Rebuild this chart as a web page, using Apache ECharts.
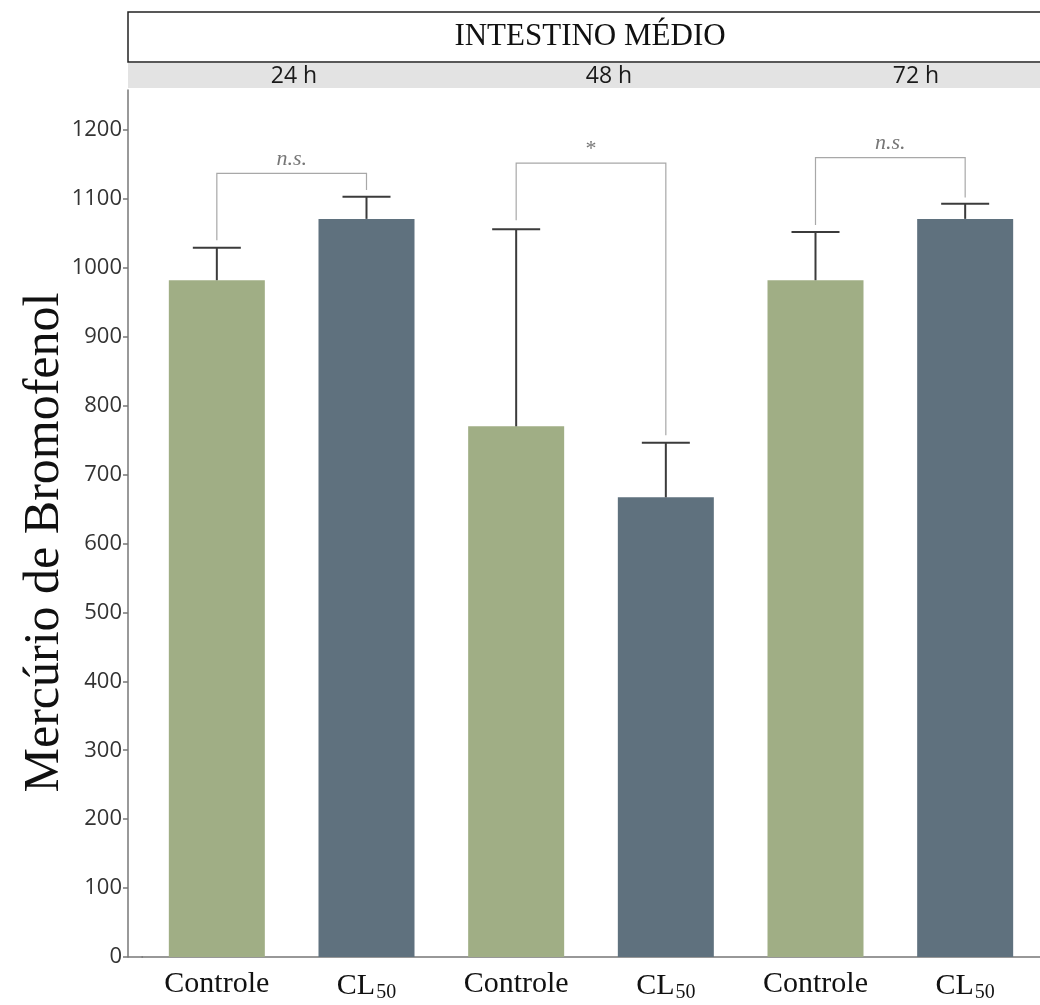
<!DOCTYPE html>
<html><head><meta charset="utf-8">
<script src="https://cdn.jsdelivr.net/npm/echarts@6/dist/echarts.min.js"></script>
<style>html,body{margin:0;padding:0;background:#fff}#c{width:1040px;height:1005px}</style>
</head><body><div id="c"></div>
<script>
// ---- data ----
const categories = ['Controle', 'CL50', 'Controle', 'CL50', 'Controle', 'CL50'];
const groupLabels = ['24 h', '48 h', '72 h'];
const means = [982, 1071, 770, 667, 982, 1071];
const errorTop = [1029, 1103, 1056, 746, 1052, 1093];
const bracketLeft = [0, 2, 4];
const bracketRight = [1, 3, 5];
const bracketLevel = [1137, 1152, 1160];
const bracketLeftEnd = [1040, 1069, 1062];
const bracketRightEnd = [1113, 757, 1102];
const bracketText = ['n.s.', '*', 'n.s.'];
const yTicks = [0, 100, 200, 300, 400, 500, 600, 700, 800, 900, 1000, 1100, 1200];
const panelTitle = 'INTESTINO MÉDIO';
const yName = 'Mercúrio de Bromofenol';

const GREEN = '#a0ae85', SLATE = '#5f717e';
const serif = '"Liberation Serif","DejaVu Serif",serif';
const sans = '"Open Sans","Noto Sans",sans-serif';

const chart = echarts.init(document.getElementById('c'), null, {renderer: 'canvas'});

const barData = means.map((v, i) => ({value: v, itemStyle: {color: i % 2 === 0 ? GREEN : SLATE}}));
const errData = means.map((v, i) => [i, v, errorTop[i]]);
const brData = bracketLeft.map((l, i) => [l, bracketRight[i], bracketLevel[i], bracketLeftEnd[i], bracketRightEnd[i]]);

const option = {
  animation: false,
  backgroundColor: '#fff',
  grid: {left: 142, right: -2, top: 90, bottom: 48, containLabel: false},
  graphic: [
    {type: 'rect', shape: {x: 128, y: 12, width: 930, height: 50}, style: {fill: '#fff', stroke: '#222', lineWidth: 1.5}, z: 10},
    {type: 'text', x: 590, y: 37, style: {text: panelTitle, font: '31px ' + serif, fill: '#111', textAlign: 'center', textVerticalAlign: 'middle'}, z: 11},
    {type: 'rect', shape: {x: 128, y: 63, width: 930, height: 25}, style: {fill: '#e3e3e3'}, z: 10},
    {type: 'text', x: 294, y: 76, style: {text: groupLabels[0], font: '23px ' + sans, fill: '#1a1a1a', textAlign: 'center', textVerticalAlign: 'middle'}, z: 11},
    {type: 'text', x: 609, y: 76, style: {text: groupLabels[1], font: '23px ' + sans, fill: '#1a1a1a', textAlign: 'center', textVerticalAlign: 'middle'}, z: 11},
    {type: 'text', x: 916, y: 76, style: {text: groupLabels[2], font: '23px ' + sans, fill: '#1a1a1a', textAlign: 'center', textVerticalAlign: 'middle'}, z: 11},
    {type: 'line', shape: {x1: 128, y1: 957, x2: 143, y2: 957}, style: {stroke: '#777', lineWidth: 1.5}, z: 10}
  ],
  xAxis: {
    type: 'category',
    data: categories,
    axisLine: {lineStyle: {color: '#777', width: 1.5}},
    axisTick: {alignWithLabel: true, length: 7, lineStyle: {color: '#777', width: 1.5}},
    axisLabel: {
      margin: 12,
      interval: 0,
      formatter: v => v === 'CL50' ? '{a|CL}{b|50}' : '{a|' + v + '}',
      rich: {
        a: {fontFamily: serif, fontSize: 30, color: '#111'},
        b: {fontFamily: serif, fontSize: 20, color: '#111', padding: [14, 0, 0, 1]}
      }
    },
    splitLine: {show: false}
  },
  yAxis: {
    type: 'value',
    min: 0,
    max: 1258,
    interval: 100,
    offset: 14,
    name: yName,
    nameLocation: 'middle',
    nameGap: 58,
    nameMoveOverlap: false,
    nameTextStyle: {fontFamily: serif, fontSize: 50, color: '#111', padding: [0, 38, 0, 0]},
    axisLine: {show: true, lineStyle: {color: '#777', width: 1.5}},
    axisTick: {show: true, length: 5, lineStyle: {color: '#777', width: 1.5}, customValues: yTicks},
    axisLabel: {fontFamily: sans, fontSize: 22, color: '#333', margin: 6, customValues: yTicks, formatter: v => String(v)},
    splitLine: {show: false}
  },
  series: [
    {type: 'bar', data: barData, barWidth: 96, z: 2},
    {
      type: 'custom', z: 3, data: errData,
      renderItem: (params, api) => {
        const x = api.value(0);
        const p0 = api.coord([x, api.value(1)]);
        const p1 = api.coord([x, api.value(2)]);
        const half = 24;
        const st = {stroke: '#3b3b3b', lineWidth: 2};
        return {type: 'group', children: [
          {type: 'line', shape: {x1: p0[0], y1: p0[1], x2: p1[0], y2: p1[1]}, style: st},
          {type: 'line', shape: {x1: p1[0] - half, y1: p1[1], x2: p1[0] + half, y2: p1[1]}, style: st}
        ]};
      }
    },
    {
      type: 'custom', z: 4, data: brData,
      renderItem: (params, api) => {
        const l = api.value(0), r = api.value(1);
        const top = api.value(2);
        const a = api.coord([l, top]);
        const b = api.coord([r, top]);
        const ae = api.coord([l, api.value(3)]);
        const be = api.coord([r, api.value(4)]);
        const st = {stroke: '#a8a8a8', lineWidth: 1.2, fill: null};
        const txt = bracketText[params.dataIndex];
        return {type: 'group', children: [
          {type: 'polyline', shape: {points: [[ae[0], ae[1]], [a[0], a[1]], [b[0], b[1]], [be[0], be[1]]]}, style: st},
          {type: 'text', x: (a[0] + b[0]) / 2, y: a[1] - 3, style: {
            text: txt, fill: '#777', textAlign: 'center', textVerticalAlign: 'bottom',
            font: (txt === '*' ? '22px ' : 'italic 22px ') + serif
          }}
        ]};
      }
    }
  ]
};
chart.setOption(option);
</script>
</body></html>
